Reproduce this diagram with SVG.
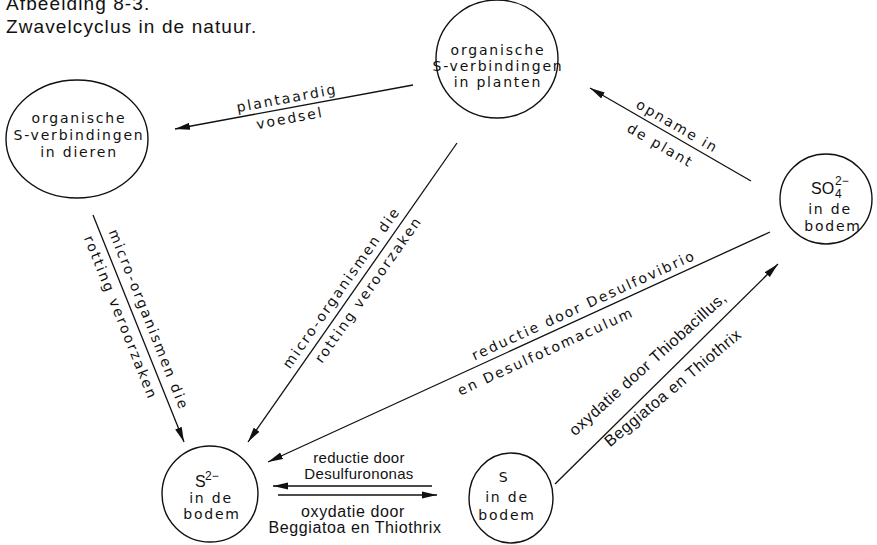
<svg xmlns="http://www.w3.org/2000/svg" width="877" height="545" viewBox="0 0 877 545">
<defs>
<marker id="ah" markerUnits="userSpaceOnUse" markerWidth="16" markerHeight="8" refX="15" refY="4" orient="auto">
<path d="M0,0.5 L15,4 L0,7.5 z" fill="#111"/>
</marker>
<style>
.node{fill:none;stroke:#111;stroke-width:1.4}
.nt{font-family:"DejaVu Sans",sans-serif;font-size:14px;letter-spacing:1.8px;fill:#111;text-anchor:middle}
.big{font-family:"Liberation Sans",Arial,sans-serif;font-size:16px;fill:#111}
.sup{font-family:"Liberation Sans",Arial,sans-serif;font-size:12px;fill:#111}
.lb{font-family:"DejaVu Sans",sans-serif;font-size:14px;letter-spacing:2px;fill:#111;text-anchor:middle}
.hl{font-family:"Liberation Sans",Arial,sans-serif;font-size:16px;letter-spacing:0.6px;fill:#111;text-anchor:middle}
.hs{font-family:"Liberation Sans",Arial,sans-serif;font-size:15px;letter-spacing:0.3px;fill:#111;text-anchor:middle}
.title{font-family:"Liberation Sans",Arial,sans-serif;font-size:19px;letter-spacing:1.1px;fill:#111}
.conn line{stroke:#111;stroke-width:1.3;marker-end:url(#ah)}
</style>
</defs>
<rect width="877" height="545" fill="#fff"/>
<text class="title" x="6" y="10">Afbeelding 8-3.</text>
<text class="title" x="6" y="33">Zwavelcyclus in de natuur.</text>

<g id="dieren">
<ellipse class="node" cx="77" cy="139" rx="71" ry="59"/>
<text class="nt" x="79" y="123">organische</text>
<text class="nt" x="79" y="140">S-verbindingen</text>
<text class="nt" x="79" y="157">in dieren</text>
</g>
<g id="planten">
<ellipse class="node" cx="497" cy="59" rx="61" ry="59"/>
<text class="nt" x="498" y="55">organische</text>
<text class="nt" x="498" y="71">S-verbindingen</text>
<text class="nt" x="498" y="87">in planten</text>
</g>
<g id="so4">
<ellipse class="node" cx="826" cy="199" rx="46" ry="45"/>
<text class="big" x="811" y="194">SO</text>
<text class="sup" x="835" y="198">4</text>
<text class="sup" x="835" y="185">2−</text>
<text class="nt" x="830" y="214">in de</text>
<text class="nt" x="833" y="231">bodem</text>
</g>
<g id="s2">
<ellipse class="node" cx="210" cy="494" rx="48" ry="48"/>
<text class="big" x="195" y="487">S</text>
<text class="sup" x="205" y="480">2−</text>
<text class="nt" x="211" y="503">in de</text>
<text class="nt" x="212" y="519">bodem</text>
</g>
<g id="s">
<ellipse class="node" cx="511" cy="498" rx="42" ry="45"/>
<text class="nt" x="504" y="482">S</text>
<text class="nt" x="507" y="502">in de</text>
<text class="nt" x="507" y="520">bodem</text>
</g>

<g id="connectors" class="conn">
<line x1="413" y1="85" x2="175" y2="129"/>
<line x1="751" y1="181" x2="590" y2="88"/>
<line x1="93" y1="215" x2="184" y2="442"/>
<line x1="457" y1="143" x2="248" y2="442"/>
<line x1="770" y1="232" x2="268" y2="462"/>
<line x1="555" y1="484" x2="778" y2="264"/>
<line x1="432" y1="486" x2="273" y2="486"/>
<line x1="278" y1="495" x2="437" y2="495"/>
</g>

<g id="labels">
<text class="lb" transform="translate(287,99) rotate(-10.5)" y="4">plantaardig</text>
<text class="lb" transform="translate(290,119) rotate(-10.5)" y="4">voedsel</text>
<text class="lb" transform="translate(677,127) rotate(30)" y="4">opname in</text>
<text class="lb" transform="translate(660,146) rotate(30)" y="4">de plant</text>
<text class="lb" transform="translate(148,320) rotate(68.2)" y="4">micro-organismen die</text>
<text class="lb" transform="translate(120,318) rotate(68.2)" y="4">rotting veroorzaken</text>
<text class="lb" transform="translate(342,288) rotate(-55)" y="4">micro-organismen die</text>
<text class="lb" transform="translate(369,290) rotate(-55)" y="4">rotting veroorzaken</text>
<text class="lb" transform="translate(584,306) rotate(-24.6)" y="4">reductie  door Desulfovibrio</text>
<text class="lb" transform="translate(546,352) rotate(-24.6)" y="4">en Desulfotomaculum</text>
<text class="hl" transform="translate(648,364) rotate(-42)" y="5">oxydatie door Thiobacillus,</text>
<text class="hl" transform="translate(673,388) rotate(-40)" y="5">Beggiatoa  en  Thiothrix</text>
<text class="hs" x="359" y="463">reductie door</text>
<text class="hs" x="359" y="479">Desulfurononas</text>
<text class="hl" x="353" y="517">oxydatie door</text>
<text class="hl" x="355" y="533">Beggiatoa en Thiothrix</text>
</g>
</svg>
